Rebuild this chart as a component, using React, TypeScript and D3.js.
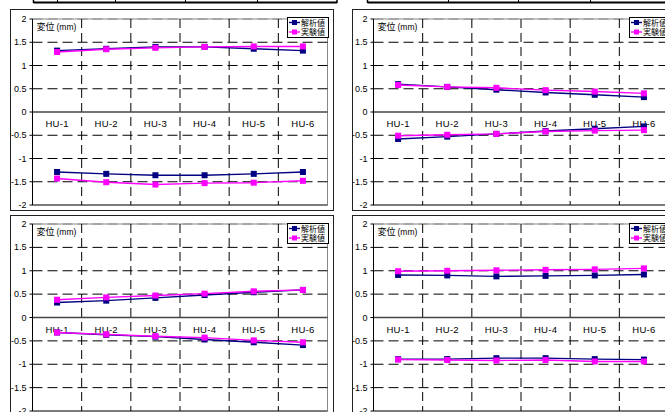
import React from "react";
import * as d3 from "d3";

const W = 665;
const H = 412;

const categories = ["HU-1", "HU-2", "HU-3", "HU-4", "HU-5", "HU-6"];
const yTicks = [2, 1.5, 1, 0.5, 0, -0.5, -1, -1.5, -2];
const seriesNames = ["解析値", "実験値"];
const seriesColors = ["#000080", "#ff00ff"];

// top-left
const tlAnaUp = [1.32, 1.36, 1.4, 1.4, 1.36, 1.32];
const tlAnaLo = [-1.29, -1.33, -1.36, -1.36, -1.33, -1.29];
const tlExpUp = [1.29, 1.35, 1.38, 1.4, 1.41, 1.41];
const tlExpLo = [-1.43, -1.51, -1.56, -1.53, -1.52, -1.48];

// top-right
const trAnaUp = [0.6, 0.54, 0.48, 0.42, 0.37, 0.32];
const trAnaLo = [-0.58, -0.53, -0.47, -0.41, -0.36, -0.31];
const trExpUp = [0.58, 0.54, 0.52, 0.47, 0.44, 0.4];
const trExpLo = [-0.51, -0.49, -0.47, -0.42, -0.4, -0.39];

// bottom-left
const blAnaUp = [0.32, 0.36, 0.42, 0.48, 0.54, 0.59];
const blAnaLo = [-0.32, -0.37, -0.41, -0.47, -0.53, -0.59];
const blExpUp = [0.38, 0.43, 0.47, 0.51, 0.56, 0.59];
const blExpLo = [-0.32, -0.36, -0.4, -0.43, -0.49, -0.53];

// bottom-right
const brAnaUp = [0.91, 0.9, 0.88, 0.89, 0.9, 0.92];
const brAnaLo = [-0.89, -0.89, -0.87, -0.87, -0.89, -0.9];
const brExpUp = [0.99, 1.0, 1.01, 1.02, 1.03, 1.05];
const brExpLo = [-0.9, -0.91, -0.92, -0.91, -0.94, -0.94];

const NUM_FONT = "'Liberation Sans', Arial, sans-serif";
const JP_FONT = "'Noto Sans CJK JP', sans-serif";

type PanelProps = {
  x: number;
  y: number;
  frameH: number;
  plotLeft: number;
  plotTop: number;
  plotH: number;
  ana: number[][];
  exp: number[][];
};

function Panel({ x, y, frameH, plotLeft, plotTop, plotH, ana, exp }: PanelProps) {
  const plotW = 295;
  const xs = d3.scaleBand<string>().domain(categories).range([plotLeft, plotLeft + plotW]);
  const ys = d3.scaleLinear().domain([-2, 2]).range([plotTop + plotH, plotTop]);
  const cx = (c: string) => (xs(c) as number) + xs.bandwidth() / 2;
  const line = d3
    .line<number>()
    .x((_, i) => cx(categories[i]))
    .y((d) => ys(d));
  const groups = [ana, exp];
  const y0 = ys(0);

  return (
    <g transform={`translate(${x},${y})`}>
      <rect x={0.5} y={0.5} width={323} height={frameH} fill="#fff" stroke="#222" strokeWidth={1} />
      <rect x={plotLeft} y={plotTop} width={plotW} height={plotH} fill="#fff" stroke="#888" strokeWidth={1} />
      {/* horizontal grid */}
      {yTicks.filter((t) => t !== 0).map((t) => (
        <line key={"h" + t} x1={plotLeft} x2={plotLeft + plotW} y1={ys(t)} y2={ys(t)}
          stroke={t === 2 ? "#888" : t === -2 ? "#333" : "#000"} strokeWidth={1}
          strokeDasharray={t === -2 ? undefined : "10,5"} />
      ))}
      {/* vertical grid at category boundaries */}
      {categories.slice(1).map((c) => (
        <line key={"v" + c} x1={xs(c)} x2={xs(c)} y1={plotTop} y2={plotTop + plotH}
          stroke="#000" strokeWidth={1} strokeDasharray="9,5" />
      ))}
      <line x1={plotLeft} x2={plotLeft + plotW} y1={y0} y2={y0} stroke="#444" strokeWidth={1.5} />
      <line x1={plotLeft} x2={plotLeft} y1={plotTop} y2={plotTop + plotH} stroke="#000" strokeWidth={1} />
      {yTicks.map((t) => (
        <g key={"t" + t}>
          <line x1={plotLeft - 3} x2={plotLeft} y1={ys(t)} y2={ys(t)} stroke="#000" />
          <text x={plotLeft - 6} y={ys(t) + 3} textAnchor="end" fontSize={9} fontFamily={NUM_FONT}>
            {t}
          </text>
        </g>
      ))}
      {categories.map((c) => (
        <text key={"c" + c} x={cx(c)} y={y0 + 15} textAnchor="middle" fontSize={9.5}
          fontFamily={NUM_FONT} letterSpacing={0.3}>
          {c}
        </text>
      ))}
      <text x={plotLeft + 4} y={plotTop + 11} fontSize={9} fontFamily={JP_FONT}>
        変位 <tspan fontFamily={NUM_FONT} fontSize={8.5}>(mm)</tspan>
      </text>
      {groups.map((g, gi) =>
        g.map((vals, si) => (
          <g key={`s${gi}-${si}`}>
            <path d={line(vals) || ""} fill="none" stroke={seriesColors[gi]} strokeWidth={1.4} />
            {vals.map((v, i) => (
              <rect key={i} x={cx(categories[i]) - 3} y={ys(v) - 3} width={6} height={6}
                fill={seriesColors[gi]} />
            ))}
          </g>
        ))
      )}
      {/* legend */}
      <g transform="translate(277,8)">
        <rect x={0.5} y={0.5} width={41} height={20} fill="#fff" stroke="#000" strokeWidth={1} />
        {seriesNames.map((n, i) => (
          <g key={n} transform={`translate(0,${5.5 + i * 9.5})`}>
            <line x1={2} x2={13} y1={0} y2={0} stroke={seriesColors[i]} strokeWidth={1.4} />
            <rect x={5} y={-2.5} width={5} height={5} fill={seriesColors[i]} />
            <text x={14} y={3} fontSize={8} fontFamily={JP_FONT}>
              {n}
            </text>
          </g>
        ))}
      </g>
    </g>
  );
}

function TopStrip({ x0, x1, dividers }: { x0: number; x1: number; dividers: number[] }) {
  return (
    <g>
      <line x1={x0} x2={x0} y1={0} y2={3} stroke="#000" strokeWidth={1.5} />
      <line x1={x1} x2={x1} y1={0} y2={3} stroke="#000" strokeWidth={1.5} />
      {dividers.map((d) => (
        <line key={d} x1={d} x2={d} y1={0} y2={3} stroke="#000" strokeWidth={1} />
      ))}
      <line x1={x0} x2={x1} y1={2.5} y2={2.5} stroke="#000" strokeWidth={2} />
    </g>
  );
}

export default function App() {
  return (
    <svg width={W} height={H} style={{ position: "absolute", left: 0, top: 0, background: "#fff" }}>
      <rect width={W} height={H} fill="#fff" />
      <TopStrip x0={33.5} x1={337} dividers={[57.5, 115.5, 185.5, 257.5]} />
      <TopStrip x0={367.5} x1={680} dividers={[448.5, 518.5, 590.5]} />
      <Panel x={10} y={9} frameH={201} plotLeft={22.5} plotTop={10} plotH={186} ana={[tlAnaUp, tlAnaLo]} exp={[tlExpUp, tlExpLo]} />
      <Panel x={352} y={9} frameH={201} plotLeft={21.5} plotTop={10} plotH={186} ana={[trAnaUp, trAnaLo]} exp={[trExpUp, trExpLo]} />
      <Panel x={10} y={215} frameH={205} plotLeft={22.5} plotTop={9} plotH={187} ana={[blAnaUp, blAnaLo]} exp={[blExpUp, blExpLo]} />
      <Panel x={352} y={215} frameH={205} plotLeft={21.5} plotTop={9} plotH={187} ana={[brAnaUp, brAnaLo]} exp={[brExpUp, brExpLo]} />
    </svg>
  );
}
